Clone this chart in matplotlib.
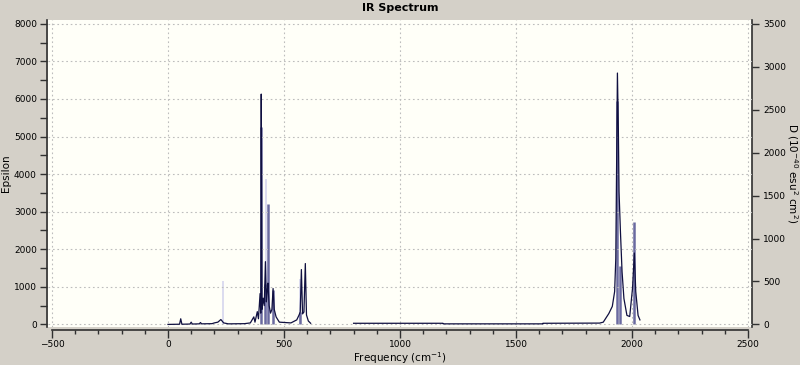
import numpy as np
import matplotlib.pyplot as plt
from matplotlib.ticker import MultipleLocator

# spectrum curve (Epsilon), two drawn pieces
curve1_freq = [0, 50, 55, 60, 95, 100, 105, 135, 140, 145, 190, 200, 215, 228, 240, 260,
               330, 355, 370, 375, 385, 390, 397, 400, 402, 405, 410, 415, 420, 424,
               428, 431, 436, 442, 448, 453, 458, 466, 480, 530, 555, 565, 570, 575,
               580, 586, 592, 597, 605, 615]
curve1_eps = [0, 5, 150, 5, 10, 60, 10, 15, 50, 15, 20, 40, 60, 130, 40, 15,
              20, 40, 200, 60, 340, 150, 820, 300, 6130, 400, 700, 500, 1670, 600,
              900, 1100, 500, 300, 400, 955, 400, 200, 60, 40, 120, 250, 330, 1460,
              280, 330, 1620, 250, 90, 30]

curve2_freq = [800, 1185, 1186, 1615, 1616, 1860, 1876, 1900, 1915, 1925, 1930, 1937,
               1941, 1944, 1950, 1957, 1965, 1978, 1990, 2002, 2010, 2016, 2026, 2034]
curve2_eps = [30, 30, 15, 15, 30, 35, 60, 290, 480, 875, 1750, 6690,
              5200, 3530, 2470, 1400, 690, 240, 210, 955, 1900, 875, 240, 120]

# sticks (D, 10^-40 esu^2 cm^2)
stick_freq = [402, 420, 431, 453, 570, 1937, 1946, 2010]
stick_D = [2300, 470, 1404, 400, 150, 2600, 680, 1190]

faint_freq = [236, 422, 568]
faint_D = [510, 1690, 530]

fig = plt.figure(figsize=(8, 3.65), dpi=100, facecolor='#d4d0c8')
ax = fig.add_axes([0.06, 0.104, 0.88, 0.841])

ymin, ymax = -70, 8100
ax.set_xlim(-517, 2517)
ax.set_ylim(ymin, ymax)

ax.grid(True, which='major', color='#bdbdbd', linestyle=(0, (1.5, 2.5)), linewidth=0.8)

ax2 = ax.twinx()
ax2.set_ylim(ymin * 3500 / 8000, ymax * 3500 / 8000)

ax2.vlines(faint_freq, 0, faint_D, color='#d6d6ee', linewidth=1.2)
ax2.vlines(stick_freq, 0, stick_D, color='#6a6aa0', linewidth=1.8)
ax.plot(curve1_freq, curve1_eps, color='#101040', linewidth=0.9, zorder=5)
ax.plot(curve2_freq, curve2_eps, color='#101040', linewidth=0.9, zorder=5)
ax.set_zorder(ax2.get_zorder() + 1)
ax.patch.set_visible(False)
ax2.patch.set_visible(True)
ax2.patch.set_facecolor('#fffff8')

for a in (ax, ax2):
    a.spines['top'].set_visible(False)
ax2.spines['left'].set_visible(False)
ax2.spines['bottom'].set_visible(False)
ax.spines['right'].set_visible(False)
ax.spines['bottom'].set_position(('outward', 2))
ax.spines['bottom'].set_bounds(-500, 2500)
ax.spines['left'].set_position(('outward', 1))
for s in (ax.spines['left'], ax.spines['bottom'], ax2.spines['right']):
    s.set_color('#303030')
    s.set_linewidth(1.2)

ax.xaxis.set_minor_locator(MultipleLocator(100))
ax.yaxis.set_minor_locator(MultipleLocator(500))

ax.tick_params(axis='x', which='major', length=6, width=1, labelsize=6.5, pad=1, color='#303030')
ax.tick_params(axis='x', which='minor', length=3, width=1, color='#303030')
ax.tick_params(axis='y', which='major', length=5, width=1, labelsize=6.5, pad=2, color='#303030')
ax.tick_params(axis='y', which='minor', length=5, width=1, color='#303030')
ax2.tick_params(axis='y', which='major', length=5, width=1, labelsize=6.5, pad=3, color='#303030')

ax.set_xticks(np.arange(-500, 2501, 500))
ax.set_yticks(np.arange(0, 8001, 1000))
ax2.set_yticks(np.arange(0, 3501, 500))

ax.set_xlabel('Frequency (cm$^{-1}$)', fontsize=7.5, va='center')
ax.xaxis.set_label_coords(0.5, -0.1)
ax.set_ylabel('Epsilon', fontsize=7.5)
ax.yaxis.set_label_coords(-0.052, 0.5)
ax2.set_ylabel('D (10$^{-40}$ esu$^2$ cm$^2$)', fontsize=7.5, rotation=-90, va='center')
ax2.yaxis.set_label_coords(1.058, 0.5)
fig.text(0.5, 0.978, 'IR Spectrum', ha='center', va='center', fontsize=8, fontweight='bold')

fig.savefig('out.png', dpi=100, facecolor=fig.get_facecolor())
